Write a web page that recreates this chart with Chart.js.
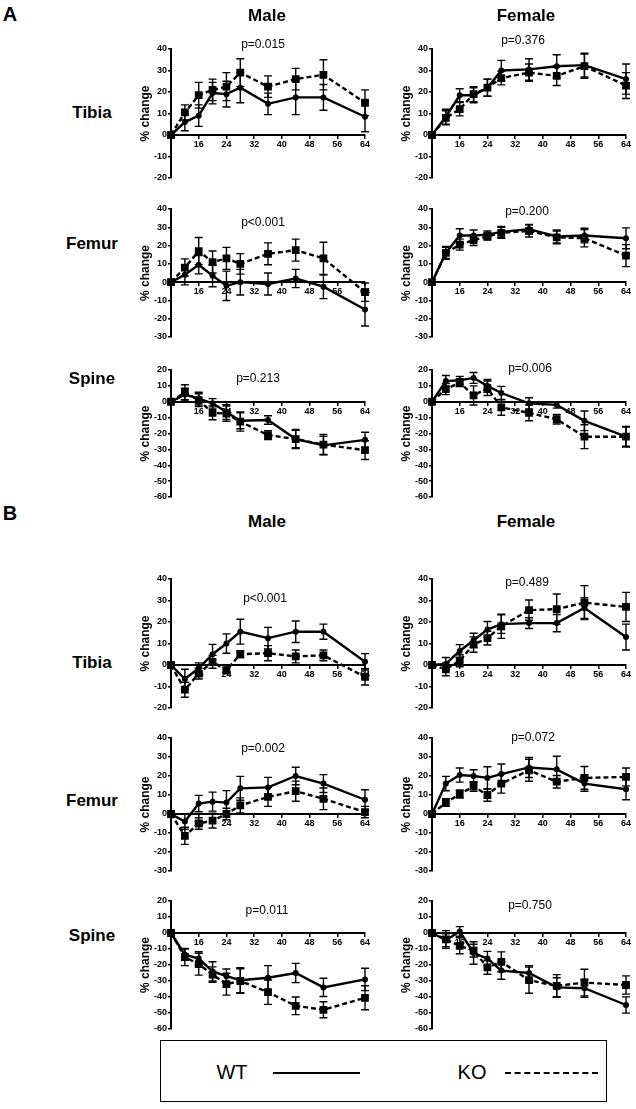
<!DOCTYPE html>
<html><head><meta charset="utf-8">
<script src="https://cdn.jsdelivr.net/npm/chart.js@4"></script>
<style>
body{margin:0;background:#fff;}
#fig{position:relative;width:636px;height:1109px;overflow:hidden;font-family:"Liberation Sans",Arial,sans-serif;color:#000;background:#fff;}
.t{position:absolute;white-space:nowrap;transform:translate(-50%,-50%);line-height:1;}
.b{font-weight:bold;}
canvas{position:absolute;}
</style></head><body><div id="fig"></div>
<script>
// ---------- DATA ----------
const weeks = [8, 12, 16, 20, 24, 28, 36, 44, 52, 64];
const xTicks = [16, 24, 32, 40, 48, 56, 64];

// Panel A
const aMaleTibiaWT    = [0, 6, 9, 19.5, 19, 22, 14.5, 17.5, 17.5, 8.5];
const aMaleTibiaWTErr = [0, 4, 5, 5, 6, 7, 5, 8, 6, 7];
const aMaleTibiaKO    = [0, 10.5, 18.5, 21, 22.5, 29, 22.5, 26, 28, 15];
const aMaleTibiaKOErr = [0, 3.5, 6, 5, 6.5, 6.5, 5, 5, 7, 6];

const aFemTibiaWT    = [0, 8.5, 18.5, 18.5, 22, 30, 30.5, 32, 32.5, 26];
const aFemTibiaWTErr = [0, 3.5, 3, 3.5, 4, 4.7, 5, 5.3, 5.5, 7];
const aFemTibiaKO    = [0, 8, 12, 19, 22, 26.5, 29, 27.5, 32, 23];
const aFemTibiaKOErr = [0, 3.3, 3.1, 3.5, 4, 3.2, 4, 4.5, 5.6, 6];

const aMaleFemurWT    = [0, 4, 9.5, 3.5, -2, 0, -1, 2, -2.5, -15];
const aMaleFemurWTErr = [0, 5.5, 5, 6, 8, 7, 6, 5, 6.5, 9];
const aMaleFemurKO    = [0, 8, 17, 11, 13, 10, 15.5, 17.5, 13, -5.5];
const aMaleFemurKOErr = [0, 4.7, 7.4, 6, 6, 5.6, 6, 6, 8.8, 5];

const aFemFemurWT    = [0, 16, 25.5, 25.5, 26, 27.5, 29, 25, 25.5, 24];
const aFemFemurWTErr = [0, 3.5, 3.7, 3, 2, 3, 2.5, 3.5, 4, 5.7];
const aFemFemurKO    = [0, 16, 20.5, 23, 25, 27, 28, 24.5, 24, 14.5];
const aFemFemurKOErr = [0, 3, 3, 3, 2, 3, 3.3, 3.5, 4.7, 6];

const aMaleSpineWT    = [0, 4.5, 2, -1, -6.5, -12, -11.5, -23.5, -27.5, -24];
const aMaleSpineWTErr = [0, 4, 4, 3, 4.6, 5, 2.7, 5.5, 5.7, 4.8];
const aMaleSpineKO    = [0, 6, 1, -7, -7.5, -12.5, -21, -23.5, -27, -30.5];
const aMaleSpineKOErr = [0, 4.7, 4, 4.3, 4.8, 6, 2.8, 6, 6.4, 5.9];

const aFemSpineWT    = [0, 13, 13.5, 15, 10, 5.5, -1, -2, -12, -22];
const aFemSpineWTErr = [0, 3.5, 2.5, 3.4, 4, 4.2, 3.5, 2, 6.2, 6];
const aFemSpineKO    = [0, 8, 12, 4, 8.5, -3.5, -7, -11, -22, -22];
const aFemSpineKOErr = [0, 3.5, 2.5, 6, 4.6, 5, 5, 3, 7.5, 6.5];

// Panel B
const bMaleTibiaWT    = [0, -6.5, -1.5, 5, 10, 15.5, 12.5, 15.5, 15.5, 1.5];
const bMaleTibiaWTErr = [0, 4.5, 2.5, 4.6, 4.5, 5.8, 5, 5, 3.5, 3.8];
const bMaleTibiaKO    = [0, -11.5, -4, 1.5, -2.5, 5, 5.5, 4, 4.5, -5.5];
const bMaleTibiaKOErr = [0, 3.5, 2.5, 3, 1.5, 1.5, 3.5, 3, 2.5, 3.8];

const bFemTibiaWT    = [0, 0.5, 6.5, 11.5, 16.5, 19, 19.5, 19.5, 26.5, 13];
const bFemTibiaWTErr = [0, 3, 3, 3.3, 3.7, 4.3, 2.5, 4, 4.8, 6];
const bFemTibiaKO    = [0, -2, 2, 9.5, 12.5, 18, 25.5, 26, 29, 27];
const bFemTibiaKOErr = [0, 3, 2.8, 3.6, 3.2, 5.6, 4.7, 7, 7.9, 6.8];

const bMaleFemurWT    = [0, -4, 5.5, 6.5, 6, 13.5, 14, 20, 16, 7.5];
const bMaleFemurWTErr = [0, 4, 4.3, 5, 6.3, 6.3, 5.3, 4.6, 4.7, 5.3];
const bMaleFemurKO    = [0, -11.5, -5, -3.5, 0, 4.5, 9, 12, 8, 1];
const bMaleFemurKOErr = [0, 4.5, 3, 3.9, 3, 4, 5, 5.3, 5.7, 3];

const bFemFemurWT    = [0, 16, 20.5, 20, 19, 21, 24.5, 23.5, 16, 13];
const bFemFemurWTErr = [0, 3.8, 3.7, 3.3, 5.9, 5.3, 5.3, 6.9, 4, 5.5];
const bFemFemurKO    = [0, 6, 10.5, 14.5, 10, 16, 23, 17, 19, 19.5];
const bFemFemurKOErr = [0, 2, 2.1, 2.5, 3.3, 5, 5.8, 3.3, 6, 4.7];

const bMaleSpineWT    = [0, -13.5, -16, -24, -27, -29.5, -28, -25, -34, -29];
const bMaleSpineWTErr = [0, 3.5, 4.3, 6, 4.5, 7.8, 7.6, 6, 5.7, 7];
const bMaleSpineKO    = [0, -15, -19.5, -26, -32, -30, -37, -45.5, -48, -40.5];
const bMaleSpineKOErr = [0, 5.4, 6.8, 4.8, 6.8, 7.7, 7.6, 5.5, 5, 7.5];

const bFemSpineWT    = [0, -4.5, 1, -12.5, -16, -23.5, -25, -34, -34.5, -45];
const bFemSpineWTErr = [0, 4, 3, 7, 4.5, 5.4, 4.5, 6, 5.7, 5.1];
const bFemSpineKO    = [0, -4, -8, -11, -21.5, -18, -29.5, -33, -31, -32.5];
const bFemSpineKOErr = [0, 5.5, 5, 4, 4.3, 6.2, 8.2, 7, 8.3, 5.7];

const pValues = ['p=0.015','p=0.376','p<0.001','p=0.200','p=0.213','p=0.006',
                 'p<0.001','p=0.489','p=0.002','p=0.072','p=0.011','p=0.750'];

// ---------- LAYOUT ----------
const fig = document.getElementById('fig');
const MALE_AXIS = 171, FEM_AXIS = 432, PLOT_W = 194;
const YW = 40, PT = 10, PR = 14, PB = 10;

function addText(txt, cx, cy, size, bold) {
  const d = document.createElement('div');
  d.className = 't' + (bold ? ' b' : '');
  d.style.left = cx + 'px'; d.style.top = cy + 'px';
  d.style.fontSize = size + 'px';
  d.textContent = txt;
  fig.appendChild(d);
}

const errorBars = {
  id: 'errorBars',
  afterDatasetsDraw(chart) {
    const {ctx} = chart; const xs = chart.scales.x, ys = chart.scales.y;
    ctx.save();
    ctx.strokeStyle = '#000'; ctx.lineWidth = 1.4; ctx.setLineDash([]);
    chart.data.datasets.forEach(ds => {
      ds.data.forEach((p, i) => {
        const e = ds.errors[i];
        if (!e) return;
        const px = xs.getPixelForValue(p.x);
        const yt = ys.getPixelForValue(p.y + e), yb = ys.getPixelForValue(p.y - e);
        ctx.beginPath();
        ctx.moveTo(px, yt); ctx.lineTo(px, yb);
        ctx.moveTo(px - 4, yt); ctx.lineTo(px + 4, yt);
        ctx.moveTo(px - 4, yb); ctx.lineTo(px + 4, yb);
        ctx.stroke();
      });
    });
    ctx.restore();
  }
};

const tickFont = {family: '"Liberation Sans", Arial, sans-serif', size: 9, weight: 'bold'};

function makeChart(axisX, top, bottom, yMin, yMax, wt, wtE, ko, koE) {
  const cw = YW + PLOT_W + PR, ch = PT + (bottom - top) + PB;
  const c = document.createElement('canvas');
  c.width = cw; c.height = ch;
  c.style.left = (axisX - YW) + 'px'; c.style.top = (top - PT) + 'px';
  c.style.width = cw + 'px'; c.style.height = ch + 'px';
  fig.appendChild(c);
  const toPts = arr => weeks.map((w, i) => ({x: w, y: arr[i]}));
  new Chart(c, {
    type: 'line',
    data: {datasets: [
      {label: 'WT', data: toPts(wt), errors: wtE, borderColor: '#000', backgroundColor: '#000',
       borderWidth: 2.4, pointRadius: 1.8, pointStyle: 'circle', clip: false, tension: 0},
      {label: 'KO', data: toPts(ko), errors: koE, borderColor: '#000', backgroundColor: '#000',
       borderWidth: 2.4, borderDash: [5, 3], pointRadius: 3.8, pointStyle: 'rect', clip: false, tension: 0}
    ]},
    options: {
      responsive: false, maintainAspectRatio: false, animation: false, devicePixelRatio: 1,
      layout: {padding: {left: 0, right: PR, top: PT, bottom: PB}},
      plugins: {legend: {display: false}, tooltip: {enabled: false}},
      scales: {
        x: {type: 'linear', min: weeks[0], max: weeks[weeks.length - 1], position: {y: 0},
            afterBuildTicks: s => { s.ticks = xTicks.map(v => ({value: v})); },
            ticks: {color: '#000', font: tickFont, padding: 1, maxRotation: 0, autoSkip: false},
            grid: {display: true, drawOnChartArea: false, drawTicks: true, tickLength: 3, color: '#000', lineWidth: 1.5},
            border: {display: true, color: '#000', width: 2}},
        y: {min: yMin, max: yMax,
            ticks: {stepSize: 10, color: '#000', font: tickFont, padding: 1},
            grid: {display: true, drawOnChartArea: false, drawTicks: true, tickLength: 3, color: '#000', lineWidth: 1.5},
            border: {display: true, color: '#000', width: 2},
            title: {display: true, text: '% change', color: '#000',
                    font: {family: '"Liberation Sans", Arial, sans-serif', size: 12, weight: 'bold'},
                    padding: {top: 7, bottom: 0}},
            afterFit: s => { s.width = YW; }}
      }
    },
    plugins: [errorBars]
  });
}

// rows: [top, bottom, yMin, yMax]
const rows = [
  [49, 178, -20, 40], [209, 337, -30, 40], [370, 497, -60, 20],
  [579, 708, -20, 40], [738, 871, -30, 40], [901, 1029, -60, 20]
];
const series = [
  [aMaleTibiaWT, aMaleTibiaWTErr, aMaleTibiaKO, aMaleTibiaKOErr, aFemTibiaWT, aFemTibiaWTErr, aFemTibiaKO, aFemTibiaKOErr],
  [aMaleFemurWT, aMaleFemurWTErr, aMaleFemurKO, aMaleFemurKOErr, aFemFemurWT, aFemFemurWTErr, aFemFemurKO, aFemFemurKOErr],
  [aMaleSpineWT, aMaleSpineWTErr, aMaleSpineKO, aMaleSpineKOErr, aFemSpineWT, aFemSpineWTErr, aFemSpineKO, aFemSpineKOErr],
  [bMaleTibiaWT, bMaleTibiaWTErr, bMaleTibiaKO, bMaleTibiaKOErr, bFemTibiaWT, bFemTibiaWTErr, bFemTibiaKO, bFemTibiaKOErr],
  [bMaleFemurWT, bMaleFemurWTErr, bMaleFemurKO, bMaleFemurKOErr, bFemFemurWT, bFemFemurWTErr, bFemFemurKO, bFemFemurKOErr],
  [bMaleSpineWT, bMaleSpineWTErr, bMaleSpineKO, bMaleSpineKOErr, bFemSpineWT, bFemSpineWTErr, bFemSpineKO, bFemSpineKOErr]
];
rows.forEach((r, i) => {
  const s = series[i];
  makeChart(MALE_AXIS, r[0], r[1], r[2], r[3], s[0], s[1], s[2], s[3]);
  makeChart(FEM_AXIS, r[0], r[1], r[2], r[3], s[4], s[5], s[6], s[7]);
});

// p-values
const pPos = [[263, 44], [523, 40], [263, 222], [527, 211], [258, 378], [530, 368],
              [265, 598], [527, 582], [263, 748], [533, 737], [267, 910], [530, 905]];
pValues.forEach((p, i) => addText(p, pPos[i][0], pPos[i][1], 12, false));

// headers & row labels
addText('A', 10, 14, 20, true);
addText('Male', 267, 15, 17, true);
addText('Female', 526, 15, 17, true);
addText('B', 10, 513, 20, true);
addText('Male', 267, 521, 17, true);
addText('Female', 526, 521, 17, true);
const rowNames = ['Tibia', 'Femur', 'Spine'];
const rowY = [112, 243, 378, 662, 800, 935];
rowY.forEach((y, i) => addText(rowNames[i % 3], 92, y, 17, true));

// legend
const box = document.createElement('div');
box.style.cssText = 'position:absolute;left:160px;top:1040px;width:445px;height:60px;border:1.5px solid #000;';
fig.appendChild(box);
addText('WT', 232, 1072, 20, false);
addText('KO', 472, 1072, 20, false);
const l1 = document.createElement('div');
l1.style.cssText = 'position:absolute;left:273px;top:1072px;width:87px;border-top:2.5px solid #000;';
fig.appendChild(l1);
const l2 = document.createElement('div');
l2.style.cssText = 'position:absolute;left:505px;top:1072px;width:93px;border-top:2.5px dashed #000;';
fig.appendChild(l2);
</script>
</body></html>
